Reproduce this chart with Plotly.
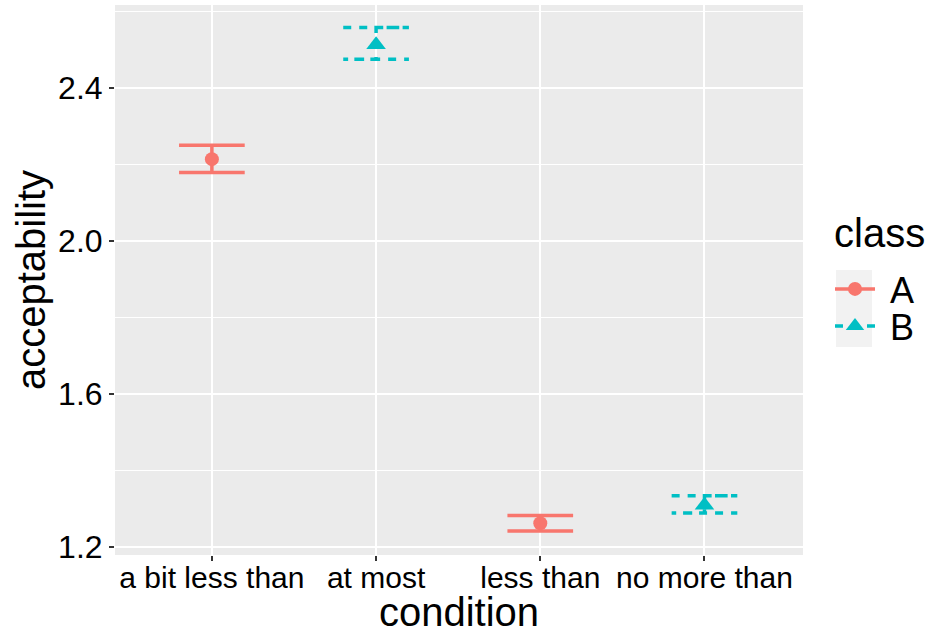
import plotly.graph_objects as go

# Conditions on the x axis and the class each one belongs to
conditions = ["a bit less than", "at most", "less than", "no more than"]
classes = ["A", "B"]

# Mean acceptability and error-bar bounds per condition
cond_class = ["A", "B", "A", "B"]
means = [2.214, 2.513, 1.262, 1.309]
lower = [2.179, 2.475, 1.242, 1.289]
upper = [2.250, 2.558, 1.282, 1.334]

y_ticks = [1.2, 1.6, 2.0, 2.4]
y_minor = [1.4, 1.8, 2.2, 2.6]

colors = {"A": "#F8766D", "B": "#00BFC4"}
symbols = {"A": "circle", "B": "triangle-up"}
marker_sizes = {"A": 14, "B": 17}
dashes = {"A": "solid", "B": "8px,8px"}

FONT = "Liberation Sans, Arial, Helvetica, sans-serif"
half_w = 0.2  # half width of the error-bar caps, in category units
lw = 3.5

fig = go.Figure()

# Error bars drawn as one polyline each (top cap, stem, bottom cap)
for i, (cond, cl) in enumerate(zip(conditions, cond_class)):
    xc = conditions.index(cond)
    xs = [xc - half_w, xc + half_w, xc, xc, xc - half_w, xc + half_w]
    ys = [upper[i], upper[i], upper[i], lower[i], lower[i], lower[i]]
    fig.add_trace(go.Scatter(
        x=xs, y=ys, mode="lines",
        line=dict(color=colors[cl], width=lw, dash=dashes[cl]),
        showlegend=False, hoverinfo="skip",
    ))

# Mean points
for cl in classes:
    idx = [i for i, c in enumerate(cond_class) if c == cl]
    fig.add_trace(go.Scatter(
        x=[conditions.index(conditions[i]) for i in idx],
        y=[means[i] for i in idx],
        mode="markers",
        marker=dict(symbol=symbols[cl], size=marker_sizes[cl], color=colors[cl],
                    line=dict(width=0)),
        showlegend=False,
    ))

L, R, T, B = 115, 126, 5, 79
W, H = 929, 634
pw, ph = W - L - R, H - T - B

def px_x(p):
    return (p - L) / pw

def px_y(p):
    return (H - B - p) / ph

# Legend entries (line + marker); each class gets its own legend box
legend_names = {"A": "legend", "B": "legend2"}
legend_rows = {"A": 289, "B": 326}
for cl in classes:
    fig.add_trace(go.Scatter(
        x=[None], y=[None], mode="lines+markers", name="\u00a0" + cl,
        legend=legend_names[cl],
        line=dict(color=colors[cl], width=lw, dash=dashes[cl]),
        marker=dict(symbol=symbols[cl], size=marker_sizes[cl], color=colors[cl]),
    ))

leg_font = dict(size=36, family=FONT, color="black")
legend_common = dict(font=leg_font, xanchor="left", yanchor="middle",
                     bgcolor="rgba(0,0,0,0)", itemwidth=40)
fig.update_layout(
    width=W, height=H,
    margin=dict(l=L, r=R, t=T, b=B, pad=0, autoexpand=False),
    paper_bgcolor="white",
    plot_bgcolor="#EBEBEB",
    font=dict(family=FONT, color="black"),
    showlegend=True,
    legend=dict(x=px_x(830), y=px_y(legend_rows["A"]), **legend_common),
    legend2=dict(x=px_x(830), y=px_y(legend_rows["B"]), **legend_common),
    shapes=[dict(
        type="rect", xref="paper", yref="paper", layer="below",
        x0=px_x(836), x1=px_x(872), y0=px_y(347), y1=px_y(270),
        fillcolor="#F2F2F2", line=dict(width=0),
    )],
    annotations=[dict(
        text="class", xref="paper", yref="paper",
        x=px_x(832), y=px_y(233), xanchor="left", yanchor="middle",
        showarrow=False, font=dict(size=40, family=FONT, color="black"),
    )],
)

fig.update_xaxes(
    range=[-0.59, 3.60],
    tickmode="array",
    tickvals=list(range(len(conditions))),
    ticktext=conditions,
    showgrid=True, gridcolor="white", gridwidth=2,
    zeroline=False, automargin=False,
    ticks="outside", ticklen=5, tickwidth=2, tickcolor="#333333",
    tickfont=dict(size=30, family=FONT, color="black"),
    ticklabelstandoff=-9,
    title=dict(text="condition", font=dict(size=40, family=FONT, color="black"), standoff=8),
    showline=False,
)

fig.update_yaxes(
    range=[1.179, 2.617],
    tickmode="array",
    tickvals=y_ticks,
    ticktext=[f"{v:.1f}" for v in y_ticks],
    showgrid=True, gridcolor="white", gridwidth=2,
    minor=dict(tickvals=y_minor, showgrid=True, gridcolor="white", gridwidth=1, ticks=""),
    zeroline=False, automargin=False,
    ticks="outside", ticklen=5, tickwidth=2, tickcolor="#333333",
    tickfont=dict(size=32, family=FONT, color="black"),
    title=dict(text="acceptability", font=dict(size=40, family=FONT, color="black"), standoff=0),
    showline=False,
)

fig.write_html("out.html")
